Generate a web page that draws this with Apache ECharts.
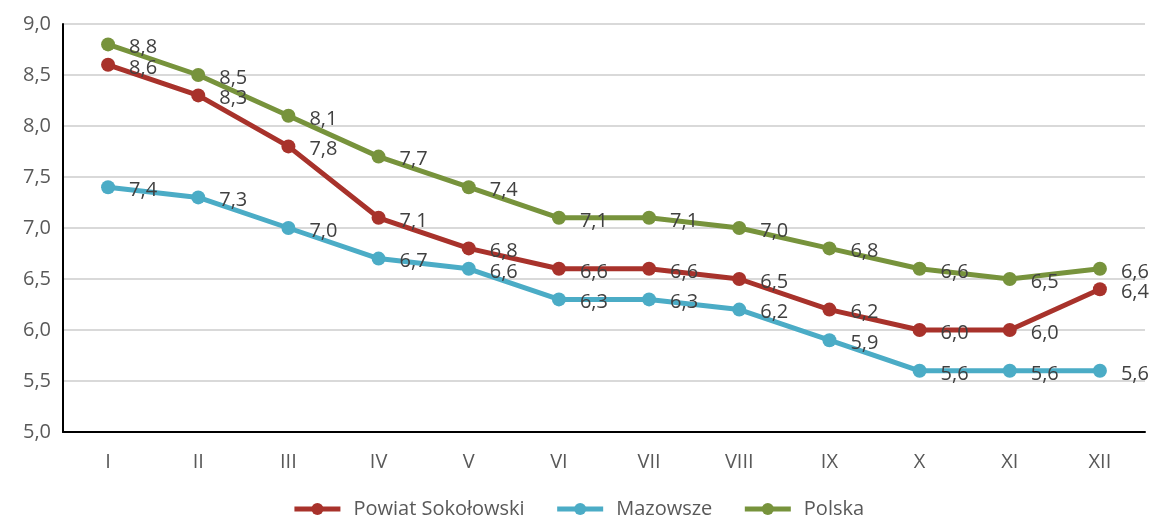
<!DOCTYPE html>
<html>
<head>
<meta charset="utf-8">
<script src="https://cdn.jsdelivr.net/npm/echarts@6/dist/echarts.min.js"></script>
<style>
  html, body { margin: 0; padding: 0; background: #fff; }
  #chart { width: 1156px; height: 516px; }
</style>
</head>
<body>
<div id="chart"></div>
<script>
const months = ["I", "II", "III", "IV", "V", "VI", "VII", "VIII", "IX", "X", "XI", "XII"]
const powiat = [8.6, 8.3, 7.8, 7.1, 6.8, 6.6, 6.6, 6.5, 6.2, 6.0, 6.0, 6.4]
const mazowsze = [7.4, 7.3, 7.0, 6.7, 6.6, 6.3, 6.3, 6.2, 5.9, 5.6, 5.6, 5.6]
const polska = [8.8, 8.5, 8.1, 7.7, 7.4, 7.1, 7.1, 7.0, 6.8, 6.6, 6.5, 6.6]

const font = "'Open Sans', 'Noto Sans', sans-serif"
const fmt = (v) => v.toFixed(1).replace(".", ",")

function makeSeries(name, data, color) {
  return {
    name: name,
    type: "line",
    data: data,
    symbol: "circle",
    symbolSize: 14,
    lineStyle: { color: color, width: 5 },
    itemStyle: { color: color },
    label: {
      show: true,
      position: "right",
      distance: 14,
      offset: [0, 3],
      color: "#404040",
      fontFamily: font,
      fontSize: 20,
      formatter: (p) => fmt(p.value),
    },
  }
}

const chart = echarts.init(document.getElementById("chart"))
chart.setOption({
  animation: false,
  backgroundColor: "#fff",
  grid: { left: 63, right: 11, top: 24, bottom: 84 },
  legend: {
    top: 494,
    left: "center",
    itemWidth: 46,
    itemHeight: 15,
    itemGap: 30,
    lineStyle: { width: 5 },
    textStyle: { color: "#595959", fontFamily: font, fontSize: 20, padding: [0, 0, 0, 8] },
    data: ["Powiat Sokołowski", "Mazowsze", "Polska"],
  },
  xAxis: {
    type: "category",
    data: months,
    boundaryGap: true,
    axisLine: { lineStyle: { color: "#000", width: 2 } },
    axisTick: { show: false },
    axisLabel: { color: "#595959", fontFamily: font, fontSize: 20, margin: 20 },
  },
  yAxis: {
    type: "value",
    min: 5,
    max: 9,
    interval: 0.5,
    axisLine: { show: true, lineStyle: { color: "#000", width: 2 } },
    axisTick: { show: false },
    splitLine: { lineStyle: { color: "#d9d9d9", width: 2 } },
    axisLabel: {
      color: "#595959",
      fontFamily: font,
      fontSize: 20,
      margin: 12,
      formatter: (v) => fmt(v),
    },
  },
  series: [
    makeSeries("Powiat Sokołowski", powiat, "#a8322b"),
    makeSeries("Mazowsze", mazowsze, "#4bacc6"),
    makeSeries("Polska", polska, "#77933c"),
  ],
})
</script>
</body>
</html>
